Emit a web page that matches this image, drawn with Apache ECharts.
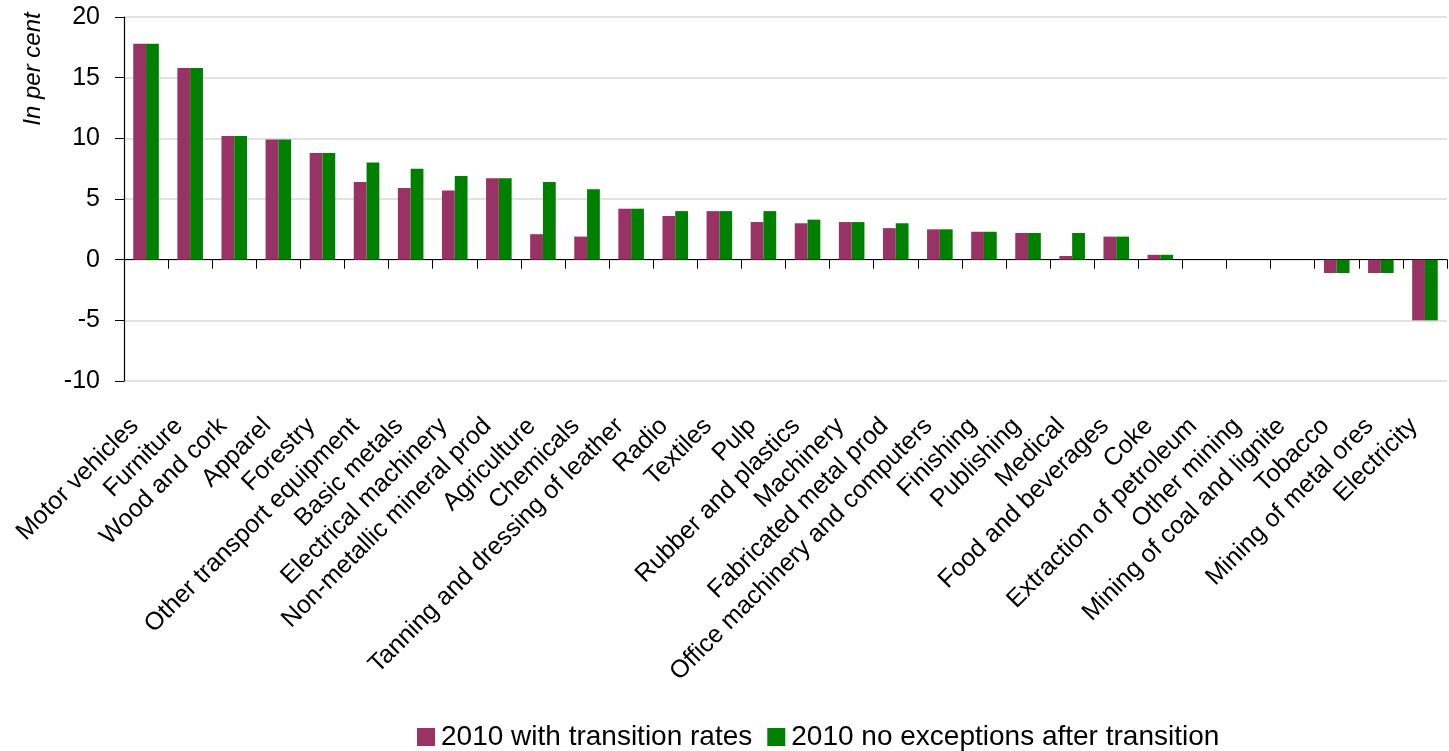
<!DOCTYPE html>
<html>
<head>
<meta charset="utf-8">
<script src="https://cdn.jsdelivr.net/npm/echarts@6/dist/echarts.min.js"></script>
<style>
  html, body { margin: 0; padding: 0; background: #fff; }
  #chart { width: 1449px; height: 751px; }
</style>
</head>
<body>
<div id="chart"></div>
<script>
// Sectors, ordered by the "no exceptions" effect
const categories = [
  'Motor vehicles', 'Furniture', 'Wood and cork', 'Apparel', 'Forestry',
  'Other transport equipment', 'Basic metals', 'Electrical machinery',
  'Non-metallic mineral prod', 'Agriculture', 'Chemicals',
  'Tanning and dressing of leather', 'Radio', 'Textiles', 'Pulp',
  'Rubber and plastics', 'Machinery', 'Fabricated metal prod',
  'Office machinery and computers', 'Finishing', 'Publishing', 'Medical',
  'Food and beverages', 'Coke', 'Extraction of petroleum', 'Other mining',
  'Mining of coal and lignite', 'Tobacco', 'Mining of metal ores', 'Electricity'
];

// Change in per cent, 2010 with transition rates
const withTransition = [
  17.8, 15.8, 10.2, 9.9, 8.8, 6.4, 5.9, 5.7, 6.7, 2.1,
  1.9, 4.2, 3.6, 4.0, 3.1, 3.0, 3.1, 2.6, 2.5, 2.3,
  2.2, 0.3, 1.9, 0.4, 0, 0, 0, -1.1, -1.1, -5.0
];

// Change in per cent, 2010 no exceptions after transition
const noExceptions = [
  17.8, 15.8, 10.2, 9.9, 8.8, 8.0, 7.5, 6.9, 6.7, 6.4,
  5.8, 4.2, 4.0, 4.0, 4.0, 3.3, 3.1, 3.0, 2.5, 2.3,
  2.2, 2.2, 1.9, 0.4, 0, 0, 0, -1.1, -1.1, -5.0
];

const yTicks = { min: -10, max: 20, step: 5 };
const seriesNames = ['2010 with transition rates', '2010 no exceptions after transition'];

const FONT = '"Liberation Sans", Arial, sans-serif';

const chart = echarts.init(document.getElementById('chart'), null, { renderer: 'canvas' });

chart.setOption({
  animation: false,
  backgroundColor: '#ffffff',
  textStyle: { fontFamily: FONT, color: '#000' },
  grid: { left: 124, right: 2, top: 17, bottom: 370, containLabel: false },
  legend: {
    data: seriesNames,
    left: 412,
    top: 718,
    icon: 'rect',
    itemWidth: 18,
    itemHeight: 18,
    itemGap: 15,
    textStyle: { fontFamily: FONT, fontSize: 28, color: '#000', padding: [0, 0, 0, 1] }
  },
  graphic: [{
    type: 'text',
    x: 33,
    y: 69,
    rotation: Math.PI / 2,
    style: {
      text: 'In per cent',
      fontFamily: FONT,
      fontStyle: 'italic',
      fontSize: 24,
      fill: '#000',
      align: 'center',
      verticalAlign: 'middle'
    }
  }],
  xAxis: [{
    // zero line with category ticks
    type: 'category',
    data: categories,
    position: 'bottom',
    axisLine: { show: true, onZero: true, lineStyle: { color: '#000', width: 1.2 } },
    axisTick: { show: true, interval: 0, length: 9, lineStyle: { color: '#000', width: 1 } },
    axisLabel: { show: false },
    splitLine: { show: false }
  }, {
    // category names along the bottom of the plot
    type: 'category',
    data: categories,
    position: 'bottom',
    axisLine: { show: false, onZero: false },
    axisTick: { show: false },
    axisLabel: {
      show: true,
      interval: 0,
      rotate: 45,
      margin: 30,
      padding: [0, 16, 0, 0],
      fontFamily: FONT,
      fontSize: 25,
      color: '#000'
    },
    splitLine: { show: false }
  }],
  yAxis: {
    type: 'value',
    min: yTicks.min,
    max: yTicks.max,
    interval: yTicks.step,
    axisLine: { show: true, onZero: false, lineStyle: { color: '#000', width: 1.2 } },
    axisTick: { show: true, length: 9, lineStyle: { color: '#000', width: 1 } },
    axisLabel: { fontFamily: FONT, fontSize: 25, color: '#000', margin: 24, padding: [8, 0, 0, 0] },
    splitLine: { show: true, lineStyle: { color: '#d9d9d9', width: 1.5 } }
  },
  series: [{
    name: seriesNames[0],
    type: 'bar',
    xAxisIndex: 0,
    data: withTransition,
    itemStyle: { color: '#993366' },
    barGap: '0%',
    barCategoryGap: '42%'
  }, {
    name: seriesNames[1],
    type: 'bar',
    xAxisIndex: 0,
    data: noExceptions,
    itemStyle: { color: '#008000' },
    barGap: '0%',
    barCategoryGap: '42%'
  }]
});
</script>
</body>
</html>
